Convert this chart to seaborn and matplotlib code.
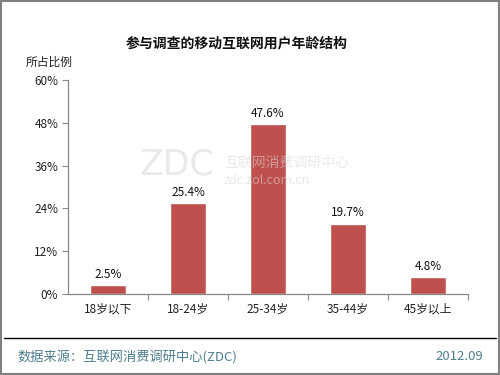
import matplotlib
matplotlib.use("Agg")
import matplotlib.pyplot as plt
import pandas as pd
import seaborn as sns

CATEGORIES = ["18岁以下", "18-24岁", "25-34岁", "35-44岁", "45岁以上"]
SHARES = [2.5, 25.4, 47.6, 19.7, 4.8]
Y_TICKS = [0, 12, 24, 36, 48, 60]

TITLE = "参与调查的移动互联网用户年龄结构"
Y_LABEL = "所占比例"
SOURCE = "数据来源：互联网消费调研中心(ZDC)"
DATE = "2012.09"

BAR_COLOR = "#C0504D"
AXIS_COLOR = "#888888"
FOOT_COLOR = "#4F7F8F"

sns.set_theme(style="white")
plt.rcParams["font.family"] = ["Noto Sans CJK SC", "DejaVu Sans"]

df = pd.DataFrame({"age": CATEGORIES, "share": SHARES})

fig = plt.figure(figsize=(5, 3.75), dpi=100)
ax = fig.add_axes([0.136, 0.216, 0.80, 0.571])

sns.barplot(data=df, x="age", y="share", color=BAR_COLOR, width=0.45,
            saturation=1, ax=ax)

for i, v in enumerate(SHARES):
    ax.text(i, v + 1.2, f"{v}%", ha="center", va="bottom", fontsize=8.5,
            color="#111111")

ax.set_xlim(-0.5, len(CATEGORIES) - 0.5)
ax.set_ylim(0, 60)
ax.set_yticks(Y_TICKS)
ax.set_yticklabels([f"{t}%" for t in Y_TICKS], fontsize=8.5, color="#222222")
ax.set_xticks([i + 0.5 for i in range(len(CATEGORIES))], minor=True)
ax.tick_params(axis="x", which="major", labelsize=8.5, colors="#222222",
               length=0, pad=6)
ax.tick_params(axis="x", which="minor", direction="out", length=4, width=0.8,
               color=AXIS_COLOR, bottom=True)
ax.tick_params(axis="y", direction="out", length=4, width=0.8,
               color=AXIS_COLOR, pad=3, left=True)
ax.set_xlabel("")
ax.set_ylabel("")
for s in ["top", "right"]:
    ax.spines[s].set_visible(False)
for s in ["left", "bottom"]:
    ax.spines[s].set_color(AXIS_COLOR)
    ax.spines[s].set_linewidth(0.9)

# faint watermark
fig.text(0.353, 0.56, "ZDC", fontsize=25, color="#D8D8D8", alpha=0.55,
         ha="center", va="center", family="DejaVu Sans")
fig.text(0.448, 0.565, "互联网消费调研中心", fontsize=10, color="#D8D8D8",
         alpha=0.55, ha="left", va="center")
fig.text(0.448, 0.52, "zdc.zol.com.cn", fontsize=9, color="#D8D8D8",
         alpha=0.55, ha="left", va="center")

fig.text(0.474, 0.885, TITLE, fontsize=10, fontweight="bold", ha="center",
         va="center", color="#111111")
fig.text(0.052, 0.833, Y_LABEL, fontsize=8.5, ha="left", va="center",
         color="#222222")

# footer
fig.add_artist(plt.Line2D([0.008, 0.992], [0.099, 0.099],
                          transform=fig.transFigure, color="black", lw=1))
fig.text(0.034, 0.05, SOURCE, fontsize=9.5, color=FOOT_COLOR, ha="left",
         va="center")
fig.text(0.966, 0.05, DATE, fontsize=9.5, color=FOOT_COLOR, ha="right",
         va="center")

# outer border
fig.add_artist(plt.Rectangle((0.002, 0.003), 0.996, 0.994,
                             transform=fig.transFigure, fill=False,
                             edgecolor="#808080", lw=1.5))

fig.savefig("out.png", dpi=100)
